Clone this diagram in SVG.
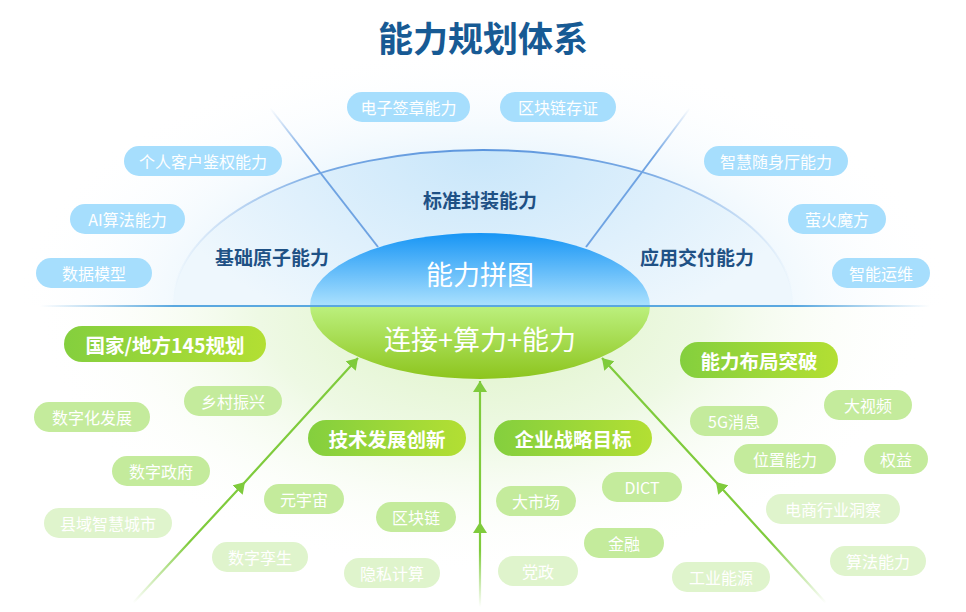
<svg xmlns="http://www.w3.org/2000/svg" width="966" height="612" viewBox="0 0 966 612">
<defs>
<style>
text{font-family:"Noto Sans CJK SC","Noto Sans",sans-serif;text-anchor:middle;dominant-baseline:central}
.title{font-size:35px;font-weight:bold;fill:#175a94}
.zone{font-size:19px;font-weight:bold;fill:#1f5185}
.core{font-size:27px;fill:#ffffff}
.bp{fill:#a6defd}
.bt{font-size:16px;fill:#ffffff}
.gh{fill:url(#gh)}
.ght{font-size:19.5px;font-weight:bold;fill:#ffffff}
.gp{fill:#c4eb9c}
.gp2{fill:#dff4cc}
.gt{font-size:16px;fill:#ffffff}
.arr{fill:none;stroke-width:2.2}
</style>
<radialGradient id="topGlow" cx="483" cy="305" r="470" gradientUnits="userSpaceOnUse" gradientTransform="translate(483 305) scale(1 0.55) translate(-483 -305)">
<stop offset="0" stop-color="#d6ecfb"/>
<stop offset="0.55" stop-color="#e9f5fd"/>
<stop offset="1" stop-color="#ffffff" stop-opacity="0"/>
</radialGradient>
<radialGradient id="botGlow" cx="483" cy="305" r="450" gradientUnits="userSpaceOnUse" gradientTransform="translate(483 305) scale(1 0.6) translate(-483 -305)">
<stop offset="0" stop-color="#dcf2c4"/>
<stop offset="0.5" stop-color="#eef9e4"/>
<stop offset="1" stop-color="#ffffff" stop-opacity="0"/>
</radialGradient>
<radialGradient id="arcFill" cx="483" cy="150" r="330" gradientUnits="userSpaceOnUse" gradientTransform="translate(483 150) scale(1 0.6) translate(-483 -150)">
<stop offset="0" stop-color="#c8e6fa"/>
<stop offset="0.6" stop-color="#dff0fc"/>
<stop offset="1" stop-color="#eef7fd"/>
</radialGradient>
<linearGradient id="arcStroke" x1="173" y1="0" x2="793" y2="0" gradientUnits="userSpaceOnUse">
<stop offset="0" stop-color="#5b95dd" stop-opacity="0"/>
<stop offset="0.25" stop-color="#5b95dd" stop-opacity="0.8"/>
<stop offset="0.5" stop-color="#5b95dd" stop-opacity="1"/>
<stop offset="0.75" stop-color="#5b95dd" stop-opacity="0.8"/>
<stop offset="1" stop-color="#5b95dd" stop-opacity="0"/>
</linearGradient>
<linearGradient id="hline" x1="40" y1="0" x2="930" y2="0" gradientUnits="userSpaceOnUse">
<stop offset="0" stop-color="#5aa8e0" stop-opacity="0"/>
<stop offset="0.15" stop-color="#5aa8e0" stop-opacity="1"/>
<stop offset="0.85" stop-color="#5aa8e0" stop-opacity="1"/>
<stop offset="1" stop-color="#5aa8e0" stop-opacity="0"/>
</linearGradient>
<linearGradient id="rayL" x1="270" y1="108" x2="378" y2="247" gradientUnits="userSpaceOnUse">
<stop offset="0" stop-color="#6fa3e2" stop-opacity="0"/>
<stop offset="0.35" stop-color="#6fa3e2" stop-opacity="1"/>
<stop offset="1" stop-color="#6fa3e2" stop-opacity="1"/>
</linearGradient>
<linearGradient id="rayR" x1="690" y1="108" x2="586" y2="247" gradientUnits="userSpaceOnUse">
<stop offset="0" stop-color="#6fa3e2" stop-opacity="0"/>
<stop offset="0.35" stop-color="#6fa3e2" stop-opacity="1"/>
<stop offset="1" stop-color="#6fa3e2" stop-opacity="1"/>
</linearGradient>
<linearGradient id="coreTop" x1="0" y1="233" x2="0" y2="306" gradientUnits="userSpaceOnUse">
<stop offset="0" stop-color="#1795f5"/>
<stop offset="1" stop-color="#abe1fe"/>
</linearGradient>
<linearGradient id="coreBot" x1="0" y1="306" x2="0" y2="380" gradientUnits="userSpaceOnUse">
<stop offset="0" stop-color="#bcf07e"/>
<stop offset="1" stop-color="#8cc41c"/>
</linearGradient>
<linearGradient id="gh" x1="0" y1="0" x2="1" y2="0">
<stop offset="0" stop-color="#84cf3e"/>
<stop offset="1" stop-color="#b3df33"/>
</linearGradient>
<linearGradient id="aL" x1="133" y1="603" x2="358" y2="358" gradientUnits="userSpaceOnUse">
<stop offset="0" stop-color="#7fcb3c" stop-opacity="0"/>
<stop offset="0.25" stop-color="#7fcb3c" stop-opacity="1"/>
<stop offset="1" stop-color="#7fcb3c"/>
</linearGradient>
<linearGradient id="aC" x1="480" y1="607" x2="480" y2="381" gradientUnits="userSpaceOnUse">
<stop offset="0" stop-color="#7fcb3c" stop-opacity="0"/>
<stop offset="0.25" stop-color="#7fcb3c" stop-opacity="1"/>
<stop offset="1" stop-color="#7fcb3c"/>
</linearGradient>
<linearGradient id="aR" x1="826" y1="603" x2="602" y2="358" gradientUnits="userSpaceOnUse">
<stop offset="0" stop-color="#7fcb3c" stop-opacity="0"/>
<stop offset="0.25" stop-color="#7fcb3c" stop-opacity="1"/>
<stop offset="1" stop-color="#7fcb3c"/>
</linearGradient>
<marker id="ah" markerUnits="userSpaceOnUse" markerWidth="12" markerHeight="14" refX="11" refY="7" orient="auto">
<path d="M0,0 L11,7 L0,14 Z" fill="#7fcb3c"/>
</marker>
<clipPath id="topClip"><rect x="0" y="0" width="966" height="305"/></clipPath>
<clipPath id="botClip"><rect x="0" y="305" width="966" height="307"/></clipPath>
</defs>

<rect width="966" height="612" fill="#ffffff"/>
<g id="background">
<ellipse cx="483" cy="305" rx="470" ry="260" fill="url(#topGlow)" clip-path="url(#topClip)"/>
<ellipse cx="483" cy="305" rx="450" ry="270" fill="url(#botGlow)" clip-path="url(#botClip)"/>
<path d="M173,305 A310,155 0 0 1 793,305 Z" fill="url(#arcFill)"/>
<path d="M173,305 A310,155 0 0 1 793,305" fill="none" stroke="url(#arcStroke)" stroke-width="2"/>
<line x1="270" y1="108" x2="378" y2="247" stroke="url(#rayL)" stroke-width="2"/>
<line x1="690" y1="108" x2="586" y2="247" stroke="url(#rayR)" stroke-width="2"/>
</g>

<text id="title" class="title" x="483" y="36">能力规划体系</text>

<g id="zone-labels">
<text class="zone" x="480" y="199">标准封装能力</text>
<text class="zone" x="272" y="256">基础原子能力</text>
<text class="zone" x="697" y="256">应用交付能力</text>
</g>

<g id="core">
<path d="M310,306 A170,73 0 0 1 650,306 Z" fill="url(#coreTop)"/>
<path d="M310,306 A170,73 0 0 0 650,306 Z" fill="url(#coreBot)"/>
<text class="core" x="480" y="273">能力拼图</text>
<text class="core" x="480" y="338">连接+算力+能力</text>
</g>
<line id="divider" x1="40" y1="306" x2="930" y2="306" stroke="url(#hline)" stroke-width="2"/>

<g id="n-dzqz"><rect class="bp" x="347" y="92" width="123" height="30" rx="15"/><text class="bt" x="408.5" y="107">电子签章能力</text></g>
<g id="n-qklcz"><rect class="bp" x="500" y="92" width="116" height="30" rx="15"/><text class="bt" x="558" y="107">区块链存证</text></g>
<g id="n-grkh"><rect class="bp" x="124" y="146" width="158" height="30" rx="15"/><text class="bt" x="203" y="161">个人客户鉴权能力</text></g>
<g id="n-aisf"><rect class="bp" x="70" y="204" width="115" height="30" rx="15"/><text class="bt" x="127.5" y="219">AI算法能力</text></g>
<g id="n-sjmx"><rect class="bp" x="36" y="258" width="116" height="30" rx="15"/><text class="bt" x="94" y="273">数据模型</text></g>
<g id="n-zhsst"><rect class="bp" x="704" y="146" width="144" height="30" rx="15"/><text class="bt" x="776" y="161">智慧随身厅能力</text></g>
<g id="n-yhmf"><rect class="bp" x="788" y="204" width="98" height="30" rx="15"/><text class="bt" x="837" y="219">萤火魔方</text></g>
<g id="n-znyw"><rect class="bp" x="832" y="258" width="98" height="30" rx="15"/><text class="bt" x="881" y="273">智能运维</text></g>

<g id="n-gjdf"><rect class="gh" x="64" y="326" width="202" height="36" rx="18"/><text class="ght" x="165" y="344">国家/地方145规划</text></g>
<g id="n-jsfz"><rect class="gh" x="308" y="420" width="158" height="36" rx="18"/><text class="ght" x="387" y="438">技术发展创新</text></g>
<g id="n-qyzl"><rect class="gh" x="494" y="420" width="158" height="36" rx="18"/><text class="ght" x="573" y="438">企业战略目标</text></g>
<g id="n-nlbj"><rect class="gh" x="680" y="342" width="158" height="36" rx="18"/><text class="ght" x="759" y="360">能力布局突破</text></g>

<g id="n-xczx"><rect class="gp" x="184" y="386" width="98" height="30" rx="15"/><text class="gt" x="233" y="401">乡村振兴</text></g>
<g id="n-szhfz"><rect class="gp" x="34" y="402" width="116" height="30" rx="15"/><text class="gt" x="92" y="417">数字化发展</text></g>
<g id="n-szzf"><rect class="gp" x="112" y="456" width="98" height="30" rx="15"/><text class="gt" x="161" y="471">数字政府</text></g>
<g id="n-xyzh"><rect class="gp2" x="44" y="508" width="128" height="30" rx="15"/><text class="gt" x="108" y="523">县域智慧城市</text></g>
<g id="n-yyz"><rect class="gp" x="264" y="484" width="80" height="30" rx="15"/><text class="gt" x="304" y="499">元宇宙</text></g>
<g id="n-qkl"><rect class="gp" x="376" y="502" width="80" height="30" rx="15"/><text class="gt" x="416" y="517">区块链</text></g>
<g id="n-szls"><rect class="gp2" x="212" y="542" width="96" height="30" rx="15"/><text class="gt" x="260" y="557">数字孪生</text></g>
<g id="n-ysjs"><rect class="gp2" x="344" y="558" width="96" height="30" rx="15"/><text class="gt" x="392" y="573">隐私计算</text></g>

<g id="n-dsc"><rect class="gp" x="496" y="486" width="80" height="30" rx="15"/><text class="gt" x="536" y="501">大市场</text></g>
<g id="n-dict"><rect class="gp" x="602" y="472" width="80" height="30" rx="15"/><text class="gt" x="642" y="487">DICT</text></g>
<g id="n-jr"><rect class="gp" x="584" y="528" width="80" height="30" rx="15"/><text class="gt" x="624" y="543">金融</text></g>
<g id="n-dz"><rect class="gp2" x="498" y="556" width="80" height="30" rx="15"/><text class="gt" x="538" y="571">党政</text></g>
<g id="n-gyny"><rect class="gp2" x="672" y="562" width="98" height="30" rx="15"/><text class="gt" x="721" y="577">工业能源</text></g>

<g id="n-5g"><rect class="gp" x="690" y="406" width="88" height="30" rx="15"/><text class="gt" x="734" y="421">5G消息</text></g>
<g id="n-dsp"><rect class="gp" x="824" y="390" width="88" height="30" rx="15"/><text class="gt" x="868" y="405">大视频</text></g>
<g id="n-wznl"><rect class="gp" x="734" y="444" width="102" height="30" rx="15"/><text class="gt" x="785" y="459">位置能力</text></g>
<g id="n-qy"><rect class="gp" x="864" y="444" width="64" height="30" rx="15"/><text class="gt" x="896" y="459">权益</text></g>
<g id="n-dshy"><rect class="gp2" x="766" y="494" width="134" height="30" rx="15"/><text class="gt" x="833" y="509">电商行业洞察</text></g>
<g id="n-sfnl"><rect class="gp2" x="830" y="546" width="96" height="30" rx="15"/><text class="gt" x="878" y="561">算法能力</text></g>

<g id="connectors">
<path class="arr" d="M133,603 L245,482 L358,358" stroke="url(#aL)" marker-mid="url(#ah)" marker-end="url(#ah)"/>
<path class="arr" d="M480,607 L480,522 L480,381" stroke="url(#aC)" marker-mid="url(#ah)" marker-end="url(#ah)"/>
<path class="arr" d="M826,603 L716,482 L602,358" stroke="url(#aR)" marker-mid="url(#ah)" marker-end="url(#ah)"/>
</g>
</svg>
